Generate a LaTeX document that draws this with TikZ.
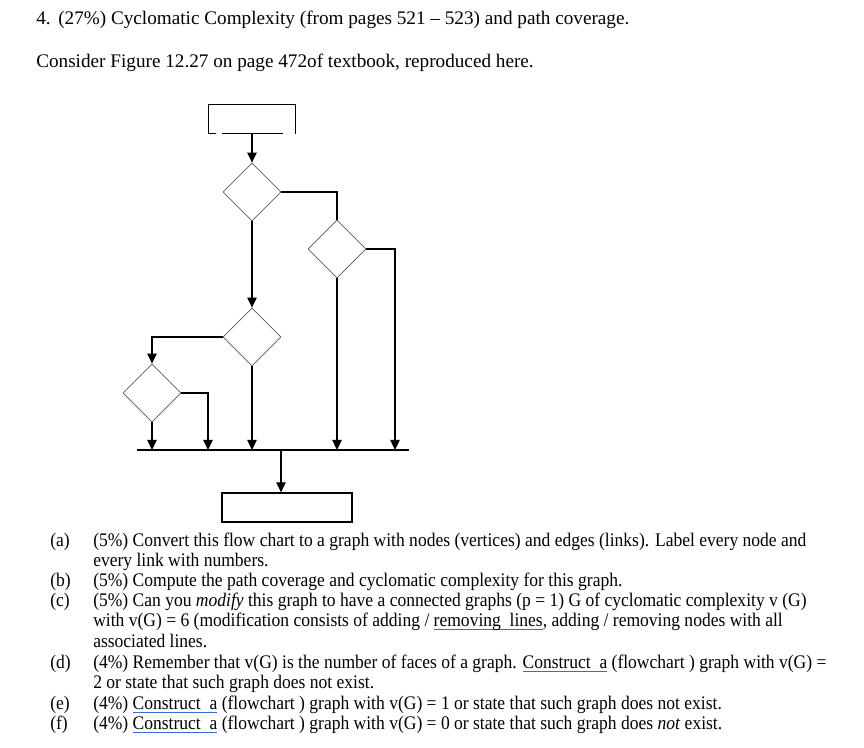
\documentclass[tikz,border=0pt]{standalone}
\usepackage{fontspec}
\setmainfont{Liberation Serif}
\newfontfamily\narrowserif[FakeStretch=0.913]{Liberation Serif}
\usetikzlibrary{positioning,arrows.meta,shapes.geometric}
\definecolor{wordBlue}{HTML}{2E6FD8}
\newcommand{\spellmark}[1]{\setbox0\hbox{#1}\rlap{\textcolor{wordBlue}{\rule[-2.8pt]{\wd0}{0.8pt}}}\box0\relax}

\begin{document}
\begin{tikzpicture}[x=0.75pt,y=-0.75pt,
    txt/.style={anchor=base west,inner sep=0pt,font=\fontsize{14.4}{17}\selectfont},
    qtxt/.style={anchor=base west,inner sep=0pt,font=\narrowserif\fontsize{14.4}{17}\selectfont},
    decision/.style={diamond,aspect=1,draw=black!65,line width=0.6pt,minimum size=43.5pt,inner sep=0pt},
    flow/.style={line width=0.9pt,-{Triangle[length=7.5pt,width=7pt]}},
    link/.style={line width=0.9pt}]
  \useasboundingbox (0,0) rectangle (864,748);
  % enunciado
  \node[txt] (num) at (36,25) {4.};
  \node[txt] (title) at (58,25) {(27\%) Cyclomatic Complexity (from pages 521 -- 523) and path coverage.};
  \node[txt] (intro) at (36,68) {Consider Figure 12.27 on page 472of textbook, reproduced here.};
  % diagrama de flujo
  \node[minimum width=64.5pt,minimum height=21.4pt,inner sep=0pt] (start) at (252,119) {};
  \draw[link] (start.south west) -- (start.north west) -- (start.north east) -- (start.south east);
  \draw[link] (start.south west) -- ++(7,0);
  \draw[link] (start.south west) ++(13,0) -- ++(61,0);
  \node[decision] (d1) at (252,192) {};
  \node[decision] (d2) at (337,249) {};
  \node[decision] (d3) at (252,337) {};
  \node[decision] (d4) at (152,393) {};
  \node[draw,line width=0.9pt,minimum width=97.5pt,minimum height=21.8pt,inner sep=0pt] (stop) at (287,507.5) {};
  \coordinate (busL) at (137,450);
  \coordinate (busR) at (409,450);
  \coordinate (busM) at (281,450);
  \coordinate (d2r) at (395,249);
  \coordinate (d4r) at (208,393);
  \draw[flow] (start.south) -- (d1.north);
  \draw[link] (d1.east) -| (d2.north);
  \draw[flow] (d1.south) -- (d3.north);
  \draw[flow] (d3.west) -| (d4.north);
  \draw[flow] (d4.south) -- (d4.south |- busL);
  \draw[flow] (d4.east) -- (d4r) -- (d4r |- busL);
  \draw[flow] (d3.south) -- (d3.south |- busL);
  \draw[flow] (d2.south) -- (d2.south |- busL);
  \draw[flow] (d2.east) -- (d2r) -- (d2r |- busL);
  \draw[link] (busL) -- (busR);
  \draw[flow] (busM) -- (busM |- stop.north);
  % preguntas
  \foreach \tag/\y in {a/546,b/586,c/606,d/668,e/709,f/729}
    {\node[qtxt] (tag-\tag) at (50,\y) {(\tag)};}
  \node[qtxt] (qa1) at (93,546) {(5\%) Convert this flow chart to a graph with nodes (vertices) and edges (links). Label every node and};
  \node[qtxt] (qa2) at (93,566) {every link with numbers.};
  \node[qtxt] (qb1) at (93,586) {(5\%) Compute the path coverage and cyclomatic complexity for this graph.};
  \node[qtxt] (qc1) at (93,606) {(5\%) Can you \textit{modify} this graph to have a connected graphs (p = 1) G of cyclomatic complexity v (G)};
  \node[qtxt] (qc2) at (93,626) {with v(G) = 6 (modification consists of adding / \spellmark{removing\ \ lines}, adding / removing nodes with all};
  \node[qtxt] (qc3) at (93,647) {associated lines.};
  \node[qtxt] (qd1) at (93,668) {(4\%) Remember that v(G) is the number of faces of a graph. \spellmark{Construct\ \ a} (flowchart ) graph with v(G) =};
  \node[qtxt] (qd2) at (93,688) {2 or state that such graph does not exist.};
  \node[qtxt] (qe1) at (93,709) {(4\%) \spellmark{Construct\ \ a} (flowchart ) graph with v(G) = 1 or state that such graph does not exist.};
  \node[qtxt] (qf1) at (93,729) {(4\%) \spellmark{Construct\ \ a} (flowchart ) graph with v(G) = 0 or state that such graph does \textit{not} exist.};
\end{tikzpicture}
\end{document}
